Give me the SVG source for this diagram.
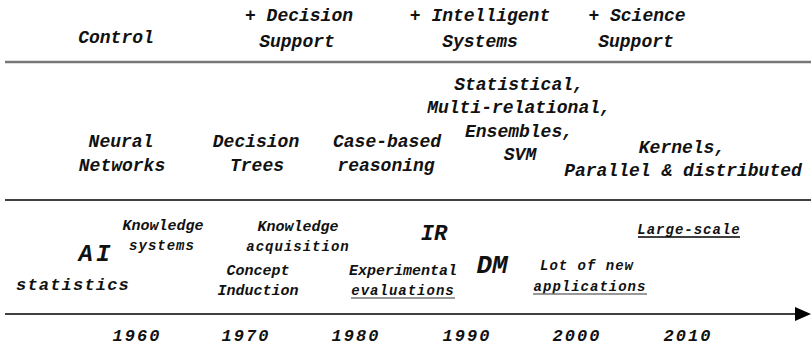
<svg xmlns="http://www.w3.org/2000/svg" width="811" height="347" viewBox="0 0 811 347">
<style>
text{font-family:"Liberation Mono","Courier New",monospace;font-style:italic;font-weight:bold;fill:#111;text-anchor:middle}
.m{font-size:18px}
.s{font-size:15px}
.t{font-size:14px;letter-spacing:1px}
.big{font-size:24px}
.yr{font-size:17px;letter-spacing:2px}
.st{font-size:17px;letter-spacing:1.2px}
.ul{stroke-width:1.6}
</style>
<defs>
<marker id="ah" markerWidth="16" markerHeight="14" refX="0" refY="7" orient="auto" markerUnits="userSpaceOnUse">
<path d="M0,0 L16,7 L0,14 Z" fill="#000"/>
</marker>
</defs>
<rect width="811" height="347" fill="#fff"/>
<g id="separators">
<line x1="5" y1="62" x2="811" y2="62" stroke="#777" stroke-width="2.5"/>
<line x1="5" y1="200" x2="811" y2="200" stroke="#000" stroke-width="1.5"/>
</g>
<g id="connectors">
<line x1="5" y1="314" x2="795" y2="314" stroke="#000" stroke-width="1.5" marker-end="url(#ah)"/>
</g>
<g id="row1">
<g id="control"><text class="m" x="116" y="43">Control</text></g>
<g id="decision-support"><text class="m" x="299" y="21">+ Decision</text><text class="m" x="297" y="47">Support</text></g>
<g id="intelligent-systems"><text class="m" x="480" y="21">+ Intelligent</text><text class="m" x="480" y="47">Systems</text></g>
<g id="science-support"><text class="m" x="637" y="21">+ Science</text><text class="m" x="636" y="47">Support</text></g>
</g>
<g id="row2">
<g id="neural-networks"><text class="m" x="121" y="147">Neural</text><text class="m" x="122" y="171">Networks</text></g>
<g id="decision-trees"><text class="m" x="256" y="147">Decision</text><text class="m" x="257" y="171">Trees</text></g>
<g id="case-based"><text class="m" x="387" y="147">Case-based</text><text class="m" x="386" y="171">reasoning</text></g>
<g id="statistical"><text class="m" x="519" y="90">Statistical,</text><text class="m" x="519" y="113">Multi-relational,</text><text class="m" x="519" y="137">Ensembles,</text><text class="m" x="520" y="160">SVM</text></g>
<g id="kernels"><text class="m" x="682" y="153">Kernels,</text><text class="m" x="683" y="176">Parallel &amp; distributed</text></g>
</g>
<g id="row3">
<g id="ai"><text class="big" x="96" y="261" style="letter-spacing:3px">AI</text></g>
<g id="knowledge-systems"><text class="s" x="163" y="230">Knowledge</text><text class="t" x="162" y="250">systems</text></g>
<g id="statistics"><text class="st" x="73" y="290">statistics</text></g>
<g id="knowledge-acquisition"><text class="s" x="298" y="231">Knowledge</text><text class="t" x="298" y="251">acquisition</text></g>
<g id="concept-induction"><text class="s" x="258" y="275">Concept</text><text class="s" x="258" y="295">Induction</text></g>
<g id="ir"><text class="big" x="434" y="240" style="font-size:22px">IR</text></g>
<g id="experimental"><text class="s" x="403" y="275">Experimental</text><text class="t" x="403" y="295">evaluations</text><line class="ul" x1="351" y1="298" x2="455" y2="298" stroke="#777"/></g>
<g id="dm"><text class="big" x="492" y="273" style="font-size:26px">DM</text></g>
<g id="new-applications"><text class="t" x="587" y="270">Lot of new</text><text class="t" x="590" y="291">applications</text><line class="ul" x1="533" y1="294" x2="647" y2="294" stroke="#777"/></g>
<g id="large-scale"><text class="t" x="689" y="234">Large-scale</text><line class="ul" x1="638" y1="237" x2="740" y2="237" stroke="#000"/></g>
</g>
<g id="years">
<text class="yr" x="137" y="341">1960</text>
<text class="yr" x="246" y="341">1970</text>
<text class="yr" x="356" y="341">1980</text>
<text class="yr" x="467" y="341">1990</text>
<text class="yr" x="577" y="341">2000</text>
<text class="yr" x="688" y="341">2010</text>
</g>
</svg>
